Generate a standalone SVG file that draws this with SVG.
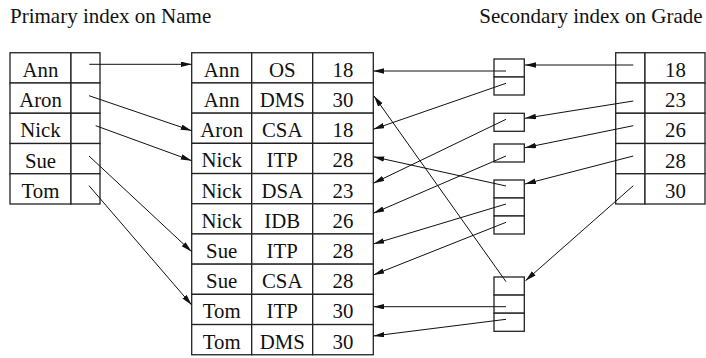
<svg xmlns="http://www.w3.org/2000/svg" width="706" height="358" viewBox="0 0 706 358">
  <style>
    .cell { fill: #fff; stroke: #222; stroke-width: 1.3; }
    .t { font-family: "Liberation Serif", "Times New Roman", serif; font-size: 20.8px; fill: #111; text-anchor: middle; }
    .title { font-family: "Liberation Serif", "Times New Roman", serif; font-size: 21px; fill: #111; }
    .arr { fill: none; stroke: #111; stroke-width: 1; marker-end: url(#head); }
  </style>
  <defs>
    <marker id="head" markerUnits="userSpaceOnUse" markerWidth="12" markerHeight="6" refX="11" refY="2.75" orient="auto">
      <path d="M0,0 L11,2.75 L0,5.5 z" fill="#111"/>
    </marker>
  </defs>
  <rect width="706" height="358" fill="#fff"/>

  <text class="title" x="10" y="22.7">Primary index on Name</text>
  <text class="title" x="479.3" y="22.7">Secondary index on Grade</text>

  <!-- primary index: name + pointer -->
  <g id="primary-index">
    <rect class="cell" x="10" y="52.75" width="61" height="30.25"/><rect class="cell" x="71" y="52.75" width="29" height="30.25"/>
    <rect class="cell" x="10" y="83" width="61" height="30.25"/><rect class="cell" x="71" y="83" width="29" height="30.25"/>
    <rect class="cell" x="10" y="113.25" width="61" height="30.25"/><rect class="cell" x="71" y="113.25" width="29" height="30.25"/>
    <rect class="cell" x="10" y="143.5" width="61" height="30.25"/><rect class="cell" x="71" y="143.5" width="29" height="30.25"/>
    <rect class="cell" x="10" y="173.75" width="61" height="30.25"/><rect class="cell" x="71" y="173.75" width="29" height="30.25"/>
    <text class="t" x="40.5" y="76.7">Ann</text>
    <text class="t" x="40.5" y="107">Aron</text>
    <text class="t" x="40.5" y="137.2">Nick</text>
    <text class="t" x="40.5" y="167.5">Sue</text>
    <text class="t" x="40.5" y="197.7">Tom</text>
  </g>

  <!-- data file: name, course, grade -->
  <g id="data-file">
    <g id="row0"><rect class="cell" x="191.7" y="52.75" width="60" height="30.2"/><rect class="cell" x="251.7" y="52.75" width="61" height="30.2"/><rect class="cell" x="312.7" y="52.75" width="60.6" height="30.2"/>
      <text class="t" x="221.7" y="76.7">Ann</text><text class="t" x="282.2" y="76.7">OS</text><text class="t" x="343" y="76.7">18</text></g>
    <g id="row1"><rect class="cell" x="191.7" y="82.95" width="60" height="30.2"/><rect class="cell" x="251.7" y="82.95" width="61" height="30.2"/><rect class="cell" x="312.7" y="82.95" width="60.6" height="30.2"/>
      <text class="t" x="221.7" y="106.9">Ann</text><text class="t" x="282.2" y="106.9">DMS</text><text class="t" x="343" y="106.9">30</text></g>
    <g id="row2"><rect class="cell" x="191.7" y="113.15" width="60" height="30.2"/><rect class="cell" x="251.7" y="113.15" width="61" height="30.2"/><rect class="cell" x="312.7" y="113.15" width="60.6" height="30.2"/>
      <text class="t" x="221.7" y="137.1">Aron</text><text class="t" x="282.2" y="137.1">CSA</text><text class="t" x="343" y="137.1">18</text></g>
    <g id="row3"><rect class="cell" x="191.7" y="143.35" width="60" height="30.2"/><rect class="cell" x="251.7" y="143.35" width="61" height="30.2"/><rect class="cell" x="312.7" y="143.35" width="60.6" height="30.2"/>
      <text class="t" x="221.7" y="167.3">Nick</text><text class="t" x="282.2" y="167.3">ITP</text><text class="t" x="343" y="167.3">28</text></g>
    <g id="row4"><rect class="cell" x="191.7" y="173.55" width="60" height="30.2"/><rect class="cell" x="251.7" y="173.55" width="61" height="30.2"/><rect class="cell" x="312.7" y="173.55" width="60.6" height="30.2"/>
      <text class="t" x="221.7" y="197.5">Nick</text><text class="t" x="282.2" y="197.5">DSA</text><text class="t" x="343" y="197.5">23</text></g>
    <g id="row5"><rect class="cell" x="191.7" y="203.75" width="60" height="30.2"/><rect class="cell" x="251.7" y="203.75" width="61" height="30.2"/><rect class="cell" x="312.7" y="203.75" width="60.6" height="30.2"/>
      <text class="t" x="221.7" y="227.7">Nick</text><text class="t" x="282.2" y="227.7">IDB</text><text class="t" x="343" y="227.7">26</text></g>
    <g id="row6"><rect class="cell" x="191.7" y="233.95" width="60" height="30.2"/><rect class="cell" x="251.7" y="233.95" width="61" height="30.2"/><rect class="cell" x="312.7" y="233.95" width="60.6" height="30.2"/>
      <text class="t" x="221.7" y="257.9">Sue</text><text class="t" x="282.2" y="257.9">ITP</text><text class="t" x="343" y="257.9">28</text></g>
    <g id="row7"><rect class="cell" x="191.7" y="264.15" width="60" height="30.2"/><rect class="cell" x="251.7" y="264.15" width="61" height="30.2"/><rect class="cell" x="312.7" y="264.15" width="60.6" height="30.2"/>
      <text class="t" x="221.7" y="288.1">Sue</text><text class="t" x="282.2" y="288.1">CSA</text><text class="t" x="343" y="288.1">28</text></g>
    <g id="row8"><rect class="cell" x="191.7" y="294.35" width="60" height="30.2"/><rect class="cell" x="251.7" y="294.35" width="61" height="30.2"/><rect class="cell" x="312.7" y="294.35" width="60.6" height="30.2"/>
      <text class="t" x="221.7" y="318.3">Tom</text><text class="t" x="282.2" y="318.3">ITP</text><text class="t" x="343" y="318.3">30</text></g>
    <g id="row9"><rect class="cell" x="191.7" y="324.55" width="60" height="30.2"/><rect class="cell" x="251.7" y="324.55" width="61" height="30.2"/><rect class="cell" x="312.7" y="324.55" width="60.6" height="30.2"/>
      <text class="t" x="221.7" y="348.5">Tom</text><text class="t" x="282.2" y="348.5">DMS</text><text class="t" x="343" y="348.5">30</text></g>
  </g>

  <!-- pointer buckets of the secondary index -->
  <g id="bucket-18"><rect class="cell" x="494" y="59" width="30.3" height="18"/><rect class="cell" x="494" y="77" width="30.3" height="18"/></g>
  <g id="bucket-23"><rect class="cell" x="494" y="113.3" width="30.3" height="18"/></g>
  <g id="bucket-26"><rect class="cell" x="494" y="144" width="30.3" height="18"/></g>
  <g id="bucket-28"><rect class="cell" x="494" y="180" width="30.3" height="18"/><rect class="cell" x="494" y="198" width="30.3" height="18"/><rect class="cell" x="494" y="216" width="30.3" height="18"/></g>
  <g id="bucket-30"><rect class="cell" x="494" y="277" width="30.3" height="18.1"/><rect class="cell" x="494" y="295.1" width="30.3" height="18.1"/><rect class="cell" x="494" y="313.2" width="30.3" height="18.1"/></g>

  <!-- secondary index: pointer + grade -->
  <g id="secondary-index">
    <rect class="cell" x="615.7" y="52.75" width="29.3" height="30.25"/><rect class="cell" x="645" y="52.75" width="60" height="30.25"/>
    <rect class="cell" x="615.7" y="83" width="29.3" height="30.25"/><rect class="cell" x="645" y="83" width="60" height="30.25"/>
    <rect class="cell" x="615.7" y="113.25" width="29.3" height="30.25"/><rect class="cell" x="645" y="113.25" width="60" height="30.25"/>
    <rect class="cell" x="615.7" y="143.5" width="29.3" height="30.25"/><rect class="cell" x="645" y="143.5" width="60" height="30.25"/>
    <rect class="cell" x="615.7" y="173.75" width="29.3" height="30.25"/><rect class="cell" x="645" y="173.75" width="60" height="30.25"/>
    <text class="t" x="675.5" y="76.7">18</text>
    <text class="t" x="675.5" y="107">23</text>
    <text class="t" x="675.5" y="137.2">26</text>
    <text class="t" x="675.5" y="167.5">28</text>
    <text class="t" x="675.5" y="197.7">30</text>
  </g>

  <g id="connectors">
    <!-- primary index to data rows -->
    <line class="arr" x1="89.3" y1="64.3" x2="191.7" y2="64.3"/>
    <line class="arr" x1="89" y1="95.7" x2="191.7" y2="130.7"/>
    <line class="arr" x1="95.7" y1="125.7" x2="191.7" y2="160.7"/>
    <line class="arr" x1="89" y1="156" x2="191.7" y2="251.7"/>
    <line class="arr" x1="89" y1="185.7" x2="191.7" y2="305"/>
    <!-- buckets to data rows -->
    <line class="arr" x1="506" y1="71" x2="373.3" y2="71"/>
    <line class="arr" x1="506" y1="83.3" x2="373.3" y2="129.3"/>
    <line class="arr" x1="506" y1="119.3" x2="373.3" y2="183.3"/>
    <line class="arr" x1="506" y1="156" x2="373.3" y2="213.3"/>
    <line class="arr" x1="506" y1="186" x2="373.3" y2="156.7"/>
    <line class="arr" x1="506" y1="204" x2="373.3" y2="244"/>
    <line class="arr" x1="506" y1="222.3" x2="373.3" y2="275"/>
    <line class="arr" x1="506" y1="281.7" x2="374" y2="96"/>
    <line class="arr" x1="506" y1="306.7" x2="373.3" y2="306.7"/>
    <line class="arr" x1="506" y1="319.3" x2="373.3" y2="336"/>
    <!-- secondary index to buckets -->
    <line class="arr" x1="633.3" y1="65" x2="525" y2="65"/>
    <line class="arr" x1="633.3" y1="101" x2="525" y2="118.3"/>
    <line class="arr" x1="633.3" y1="125.7" x2="525" y2="147.7"/>
    <line class="arr" x1="633.3" y1="156" x2="525" y2="184"/>
    <line class="arr" x1="633.3" y1="185.7" x2="525.5" y2="280.7"/>
  </g>
</svg>
